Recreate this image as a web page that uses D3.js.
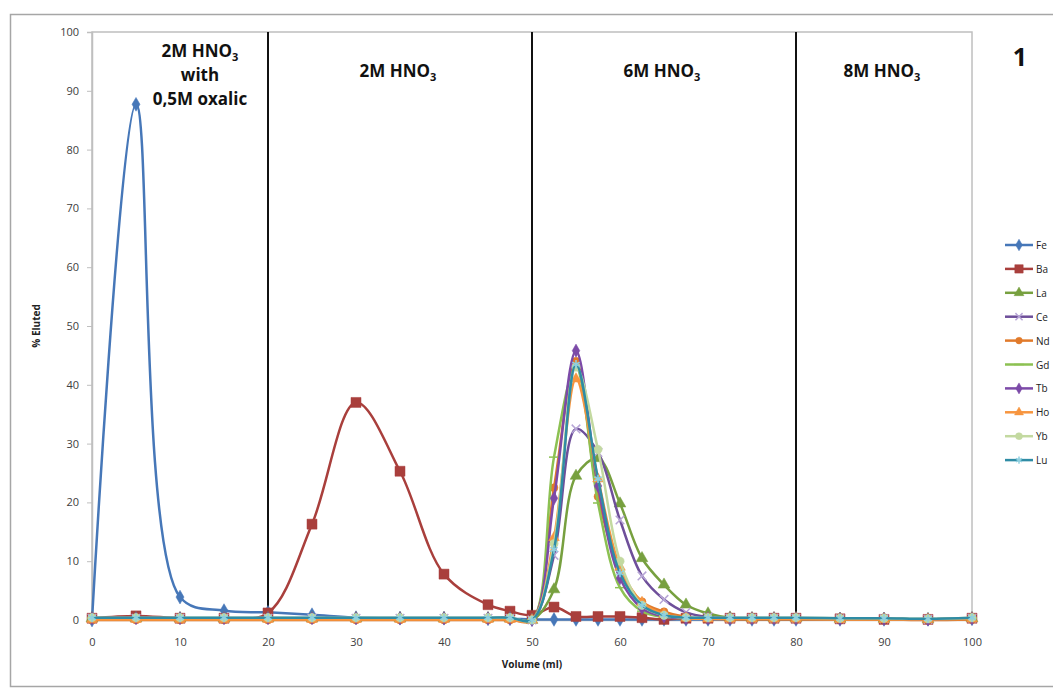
<!doctype html>
<html lang='en'>
<head>
    <meta charset='UTF-8'>
    <title>% Eluted vs Volume</title>
    <script src='https://cdn.jsdelivr.net/npm/d3@7/dist/d3.min.js'></script>
    <style>
        body { margin: 0; background: #fff; }
        text { font-family: 'Open Sans', 'Noto Sans', sans-serif; }
    </style>
    <script>
        SVG_SIZE = { width: 1053, height: 691 };
        PLOT = { left: 92, top: 32, right: 972, bottom: 620 };

        // volume (ml) of each collected fraction
        const volumes = [0, 5, 10, 15, 20, 25, 30, 35, 40, 45, 47.5, 50, 52.5, 55, 57.5, 60, 62.5, 65, 67.5, 70, 72.5, 75, 77.5, 80, 85, 90, 95, 100];
        const fe = [0, 87.7, 3.9, 1.6, 1.3, 0.9, 0.4, 0.3, 0.3, 0.2, 0.2, 0.1, 0.1, 0.1, 0.1, 0.1, 0.1, 0.1, 0.1, 0.1, 0.1, 0.1, 0.1, 0.1, 0.1, 0.1, 0.1, 0.2];
        const ba = [0.3, 0.7, 0.3, 0.3, 1.2, 16.3, 37.0, 25.3, 7.8, 2.6, 1.5, 0.8, 2.2, 0.6, 0.6, 0.6, 0.4, 0.1, 0.3, 0.3, 0.3, 0.3, 0.3, 0.3, 0.2, 0.1, 0.1, 0.3];
        const la = [0.3, 0.3, 0.3, 0.3, 0.3, 0.3, 0.3, 0.3, 0.3, 0.3, 0.3, 0, 5.2, 24.5, 27.5, 19.8, 10.5, 6.0, 2.6, 1.1, 0.4, 0.3, 0.3, 0.3, 0.2, 0.2, 0.1, 0.3];
        const ce = [0.3, 0.3, 0.3, 0.3, 0.3, 0.3, 0.3, 0.3, 0.3, 0.3, 0.3, 0, 11.0, 32.5, 28.5, 17.0, 7.5, 3.5, 1.3, 0.5, 0.3, 0.3, 0.3, 0.3, 0.2, 0.2, 0.1, 0.3];
        const nd = [0, 0, 0, 0, 0, 0, 0, 0, 0, 0, 0, 0, 22.5, 44.0, 21.0, 8.5, 3.1, 1.4, 0.5, 0.2, 0.1, 0.1, 0.1, 0.1, 0.1, 0.1, 0, 0.1];
        const gd = [0.3, 0.3, 0.3, 0.3, 0.3, 0.3, 0.3, 0.3, 0.3, 0.3, 0.3, 0, 27.7, 43.0, 19.9, 5.5, 1.5, 0.5, 0.3, 0.3, 0.3, 0.3, 0.3, 0.3, 0.2, 0.2, 0.1, 0.3];
        const tb = [0.3, 0.3, 0.3, 0.3, 0.3, 0.3, 0.3, 0.3, 0.3, 0.3, 0.3, 0, 20.7, 45.8, 22.8, 7.1, 2.0, 0.6, 0.3, 0.3, 0.3, 0.3, 0.3, 0.3, 0.2, 0.2, 0.1, 0.3];
        const ho = [0.1, 0.1, 0.1, 0.1, 0.1, 0.1, 0.1, 0.1, 0.1, 0.1, 0.1, 0, 14.0, 41.0, 24.0, 9.0, 3.0, 1.0, 0.3, 0.2, 0.2, 0.2, 0.2, 0.2, 0.1, 0.1, 0.1, 0.2];
        const yb = [0.4, 0.4, 0.4, 0.4, 0.4, 0.4, 0.4, 0.4, 0.4, 0.4, 0.4, 0, 13.0, 43.0, 29.0, 10.0, 2.5, 0.8, 0.4, 0.4, 0.4, 0.4, 0.4, 0.4, 0.3, 0.3, 0.2, 0.4];
        const lu = [0.4, 0.4, 0.4, 0.4, 0.4, 0.4, 0.4, 0.4, 0.4, 0.4, 0.4, 0, 12.0, 43.5, 24.0, 8.0, 2.5, 0.8, 0.4, 0.4, 0.4, 0.4, 0.4, 0.4, 0.3, 0.3, 0.2, 0.4];

        const seriesNames = ['Fe', 'Ba', 'La', 'Ce', 'Nd', 'Gd', 'Tb', 'Ho', 'Yb', 'Lu'];
        const seriesValues = [fe, ba, la, ce, nd, gd, tb, ho, yb, lu];
        const xTicks = [0, 10, 20, 30, 40, 50, 60, 70, 80, 90, 100];
        const yTicks = [0, 10, 20, 30, 40, 50, 60, 70, 80, 90, 100];
        const stepVolumes = [20, 50, 80];
        const stepLabels = [['2M HNO', '3'], ['2M HNO', '3'], ['6M HNO', '3'], ['8M HNO', '3']];

        // line colour, marker colour, marker type, marker size
        const styles = {
            'Fe': { color: '#4677B8', mark: '#4677B8', sym: 'diamond', size: 55 },
            'Ba': { color: '#A93F3C', mark: '#A93F3C', sym: 'square', size: 100 },
            'La': { color: '#77A03F', mark: '#77A03F', sym: 'triangle', size: 60 },
            'Ce': { color: '#6E4F9A', mark: '#B7A6D6', sym: 'times', size: 50 },
            'Nd': { color: '#E17A2B', mark: '#E17A2B', sym: 'circle', size: 50 },
            'Gd': { color: '#8CC152', mark: '#8CC152', sym: 'dash', size: 50 },
            'Tb': { color: '#7C4AA8', mark: '#7C4AA8', sym: 'diamond', size: 50 },
            'Ho': { color: '#F7953F', mark: '#F7953F', sym: 'triangle', size: 50 },
            'Yb': { color: '#C3D9A0', mark: '#C3D9A0', sym: 'circle', size: 55 },
            'Lu': { color: '#2F8CA5', mark: '#8FD0E0', sym: 'asterisk', size: 50 }
        };

        function symbolPath(name, size) {
            if (name == 'dash') {
                return 'M-5,0L5,0';
            }
            let types = {
                'diamond': d3.symbolDiamond, 'square': d3.symbolSquare, 'triangle': d3.symbolTriangle,
                'times': d3.symbolTimes, 'circle': d3.symbolCircle, 'asterisk': d3.symbolAsterisk
            };
            return d3.symbol().type(types[name]).size(size)();
        }
        function isStroked(name) {
            return name == 'times' || name == 'asterisk' || name == 'dash';
        }

        function draw_chart() {
            let svg = d3.select('#container').append('svg')
                .attr('width', SVG_SIZE.width).attr('height', SVG_SIZE.height);

            // outer chart border
            svg.append('rect').attr('x', 10.5).attr('y', 14.5).attr('width', 1050).attr('height', 672)
                .attr('fill', '#fff').attr('stroke', '#A6A6A6').attr('stroke-width', 1.5);

            let xScale = d3.scaleLinear().domain([0, 100]).range([PLOT.left, PLOT.right]);
            let yScale = d3.scaleLinear().domain([0, 100]).range([PLOT.bottom, PLOT.top]);

            // plot area frame
            svg.append('rect').attr('x', PLOT.left).attr('y', PLOT.top)
                .attr('width', PLOT.right - PLOT.left).attr('height', PLOT.bottom - PLOT.top)
                .attr('fill', 'none').attr('stroke', '#BFBFBF').attr('stroke-width', 1.5);

            let yAxis = d3.axisLeft(yScale).tickValues(yTicks).tickSize(5).tickPadding(8);
            let gy = svg.append('g').attr('transform', 'translate(' + PLOT.left + ',0)').call(yAxis);
            let xAxis = d3.axisBottom(xScale).tickValues(xTicks).tickSize(0).tickPadding(18);
            let gx = svg.append('g').attr('transform', 'translate(0,' + PLOT.bottom + ')').call(xAxis);
            [gx, gy].forEach(function (g) {
                g.select('.domain').attr('stroke', '#BFBFBF').attr('stroke-width', 1.5);
                g.selectAll('.tick line').attr('stroke', '#BFBFBF');
                g.selectAll('.tick text').attr('fill', '#404040').style('font-size', '11px')
                    .style('font-family', "'Open Sans', sans-serif");
            });

            // step boundaries
            svg.selectAll('line.step').data(stepVolumes).enter().append('line')
                .attr('class', 'step')
                .attr('x1', function (d) { return xScale(d); }).attr('x2', function (d) { return xScale(d); })
                .attr('y1', PLOT.top).attr('y2', PLOT.bottom)
                .attr('stroke', '#111').attr('stroke-width', 2);

            // step labels
            let labelCenters = [12.5, 35, 65, 90];
            labelCenters.forEach(function (v, i) {
                let t = svg.append('text')
                    .attr('x', xScale(v) - 2).attr('y', i == 0 ? 57 : 77)
                    .attr('text-anchor', 'middle')
                    .style('font-size', '17px').style('font-weight', 'bold').attr('fill', '#111');
                t.append('tspan').text(stepLabels[i][0]);
                t.append('tspan').attr('dy', 4).style('font-size', '11px').text(stepLabels[i][1]);
            });
            svg.append('text').attr('x', xScale(12.5) - 2).attr('y', 81).attr('text-anchor', 'middle')
                .style('font-size', '17px').style('font-weight', 'bold').attr('fill', '#111').text('with');
            svg.append('text').attr('x', xScale(12.5) - 2).attr('y', 105).attr('text-anchor', 'middle')
                .style('font-size', '17px').style('font-weight', 'bold').attr('fill', '#111').text('0,5M oxalic');
            svg.append('text').attr('x', 1020).attr('y', 66).attr('text-anchor', 'middle')
                .style('font-size', '25px').style('font-weight', 'bold').attr('fill', '#111').text('1');

            // axis titles
            svg.append('text').attr('transform', 'translate(40,' + ((PLOT.top + PLOT.bottom) / 2) + ')rotate(-90)')
                .attr('text-anchor', 'middle').style('font-size', '10px').style('font-weight', 'bold')
                .attr('fill', '#222').text('% Eluted');
            svg.append('text').attr('x', (PLOT.left + PLOT.right) / 2).attr('y', 668)
                .attr('text-anchor', 'middle').style('font-size', '10px').style('font-weight', 'bold')
                .attr('fill', '#222').text('Volume  (ml)');

            let line_generator = d3.line()
                .x(function (d, i) { return xScale(volumes[i]); })
                .y(function (d) { return yScale(d); })
                .curve(d3.curveCatmullRom.alpha(0.5));

            seriesNames.forEach(function (name, k) {
                let st = styles[name];
                let g = svg.append('g');
                g.append('path')
                    .attr('d', line_generator(seriesValues[k]))
                    .attr('fill', 'none')
                    .attr('stroke', st.color)
                    .attr('stroke-width', 2.5)
                    .attr('stroke-linejoin', 'round');
                g.selectAll('path.mk').data(seriesValues[k]).enter().append('path')
                    .attr('class', 'mk')
                    .attr('transform', function (d, i) { return 'translate(' + xScale(volumes[i]) + ',' + yScale(d) + ')'; })
                    .attr('d', symbolPath(st.sym, st.size))
                    .attr('fill', isStroked(st.sym) ? 'none' : st.mark)
                    .attr('stroke', st.mark)
                    .attr('stroke-width', isStroked(st.sym) ? 1.5 : 0.5);
            });

            // legend
            let legend = svg.append('g').attr('transform', 'translate(1005,245)');
            seriesNames.forEach(function (name, k) {
                let st = styles[name];
                let row = legend.append('g').attr('transform', 'translate(0,' + (k * 23.9) + ')');
                row.append('line').attr('x1', 0).attr('x2', 28).attr('y1', 0).attr('y2', 0)
                    .attr('stroke', st.color).attr('stroke-width', 2.5);
                row.append('path').attr('transform', 'translate(14,0)')
                    .attr('d', symbolPath(st.sym, st.size * 0.7))
                    .attr('fill', isStroked(st.sym) ? 'none' : st.mark)
                    .attr('stroke', st.mark)
                    .attr('stroke-width', isStroked(st.sym) ? 1.5 : 0.5);
                row.append('text').attr('x', 31).attr('y', 4)
                    .style('font-size', '10px').attr('fill', '#222').text(name);
            });
        }

        window.onload = function () {
            draw_chart();
        }
    </script>
</head>
<body>
    <div id='container'></div>
</body>
</html>
